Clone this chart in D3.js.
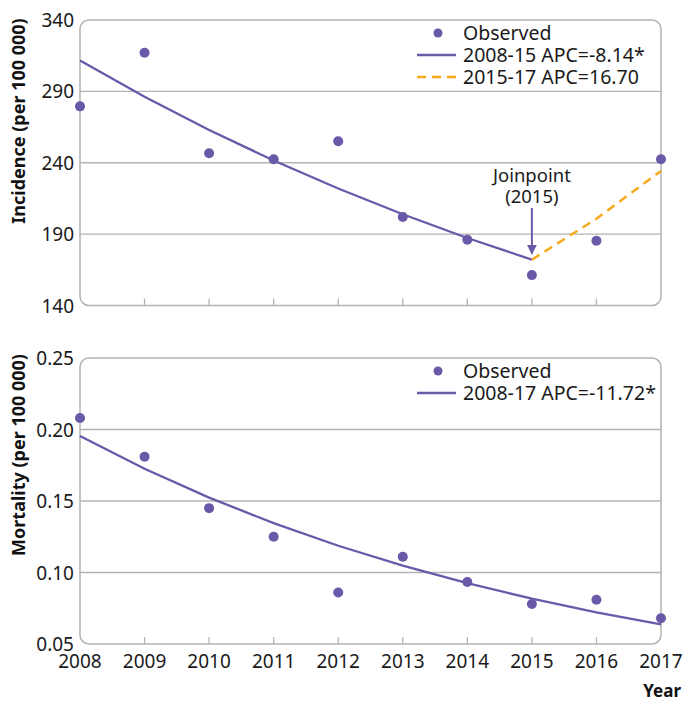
<!DOCTYPE html>
<html><head><meta charset="utf-8">
<script src="https://cdn.jsdelivr.net/npm/d3@7"></script>
<style>body{margin:0;background:#fff}text{font-family:"Noto Sans",sans-serif}</style>
</head><body><svg id="c" width="685" height="701"></svg>
<script>
const years = [2008,2009,2010,2011,2012,2013,2014,2015,2016,2017];
const incidenceObserved = [279.5,317,246.6,242.4,255,202,186,161.3,185.3,242.4];
const incidenceFitYears1 = [2008,2009,2010,2011,2012,2013,2014,2015];
const incidenceFit1 = [311.7,286.3,263.0,241.6,222.0,203.9,187.3,172.1];
const incidenceFitYears2 = [2015,2016,2017];
const incidenceFit2 = [172.1,200.8,234.3];
const mortalityObserved = [0.208,0.181,0.145,0.125,0.086,0.111,0.0934,0.078,0.081,0.068];
const mortalityFit = [0.1955,0.1726,0.1524,0.1345,0.1187,0.1048,0.0925,0.0817,0.0721,0.0637];
const incTicks = [140,190,240,290,340];
const morTicks = [0.05,0.10,0.15,0.20,0.25];

const purple = "#6a58a8", orange = "#f8aa1e", grid = "#b3b3b3";
const svg = d3.select("#c");
const x = d3.scaleLinear().domain([2008,2017]).range([80,661]);

function panel(top, bottom, domain, ticks, fmt, title, titleY){
  const y = d3.scaleLinear().domain(domain).range([bottom, top]);
  const g = svg.append("g");
  g.selectAll(".gl").data(ticks.slice(1,-1)).join("line")
    .attr("x1",80).attr("x2",661).attr("y1",d=>y(d)).attr("y2",d=>y(d))
    .attr("stroke",grid).attr("stroke-width",1.3);
  g.append("rect").attr("x",80).attr("y",top).attr("width",581).attr("height",bottom-top)
    .attr("rx",9).attr("fill","none").attr("stroke",grid).attr("stroke-width",1.5);
  g.selectAll(".tk").data(years.slice(1,-1)).join("line")
    .attr("x1",d=>x(d)).attr("x2",d=>x(d)).attr("y1",bottom).attr("y2",bottom-7)
    .attr("stroke",grid).attr("stroke-width",1.3);
  g.selectAll(".yl").data(ticks).join("text")
    .attr("x",74).attr("y",d=>y(d)+7).attr("text-anchor","end")
    .attr("font-size",19).attr("fill","#1a1a1a").text(fmt);
  g.append("text").attr("transform",`translate(25,${titleY}) rotate(-90)`)
    .attr("text-anchor","middle").attr("font-size",18).attr("font-weight","bold")
    .attr("fill","#111").text(title);
  return y;
}

const yI = panel(20,305.5,[140,340],incTicks,d=>d,"Incidence (per 100 000)",121);
const yM = panel(358,644,[0.05,0.25],morTicks,d=>d.toFixed(2),"Mortality (per 100 000)",455);

const line = (ys)=>d3.line().x(d=>x(d[0])).y(d=>ys(d[1]));
svg.append("path").datum(incidenceFitYears1.map((d,i)=>[d,incidenceFit1[i]]))
  .attr("d",line(yI)).attr("fill","none").attr("stroke",purple).attr("stroke-width",2.3);
svg.append("path").datum(incidenceFitYears2.map((d,i)=>[d,incidenceFit2[i]]))
  .attr("d",line(yI)).attr("fill","none").attr("stroke",orange).attr("stroke-width",2.5)
  .attr("stroke-dasharray","9,6");
svg.selectAll(".pi").data(years).join("circle")
  .attr("cx",d=>x(d)).attr("cy",(d,i)=>yI(incidenceObserved[i])).attr("r",5).attr("fill",purple);

svg.append("path").datum(years.map((d,i)=>[d,mortalityFit[i]]))
  .attr("d",line(yM)).attr("fill","none").attr("stroke",purple).attr("stroke-width",2.3);
svg.selectAll(".pm").data(years).join("circle")
  .attr("cx",d=>x(d)).attr("cy",(d,i)=>yM(mortalityObserved[i])).attr("r",5).attr("fill",purple);

svg.append("defs").append("marker").attr("id","ah").attr("viewBox","0 0 10 10")
  .attr("refX",9).attr("refY",5).attr("markerWidth",5).attr("markerHeight",5).attr("orient","auto")
  .append("path").attr("d","M0,0L10,5L0,10Z").attr("fill",purple);
svg.append("line").attr("x1",x(2015)).attr("x2",x(2015)).attr("y1",208).attr("y2",yI(172.1)-6)
  .attr("stroke",purple).attr("stroke-width",2).attr("marker-end","url(#ah)");
svg.append("text").attr("x",x(2015)).attr("y",182).attr("text-anchor","middle").attr("font-size",18.5).attr("fill","#1a1a1a").text("Joinpoint");
svg.append("text").attr("x",x(2015)).attr("y",203).attr("text-anchor","middle").attr("font-size",18.5).attr("fill","#1a1a1a").text("(2015)");

function legend(top, items){
  items.forEach((it,i)=>{
    const cy = top + i*22;
    if(it.type==="dot") svg.append("circle").attr("cx",438).attr("cy",cy).attr("r",4.5).attr("fill",purple);
    else svg.append("line").attr("x1",417).attr("x2",456).attr("y1",cy).attr("y2",cy)
      .attr("stroke",it.color).attr("stroke-width",2.4).attr("stroke-dasharray",it.dash||null);
    svg.append("text").attr("x",463).attr("y",cy+7).attr("font-size",19.5).attr("fill","#1a1a1a").text(it.label);
  });
}
legend(33,[{type:"dot",label:"Observed"},{type:"line",color:purple,label:"2008-15 APC=-8.14*"},{type:"line",color:orange,dash:"9,6",label:"2015-17 APC=16.70"}]);
legend(371,[{type:"dot",label:"Observed"},{type:"line",color:purple,label:"2008-17 APC=-11.72*"}]);

svg.selectAll(".xl").data(years).join("text")
  .attr("x",d=>x(d)).attr("y",668).attr("text-anchor","middle").attr("font-size",19).attr("fill","#1a1a1a").text(d=>d);
svg.append("text").attr("x",681).attr("y",697).attr("text-anchor","end").attr("font-size",17)
  .attr("font-weight","bold").attr("fill","#111").text("Year");
</script></body></html>
